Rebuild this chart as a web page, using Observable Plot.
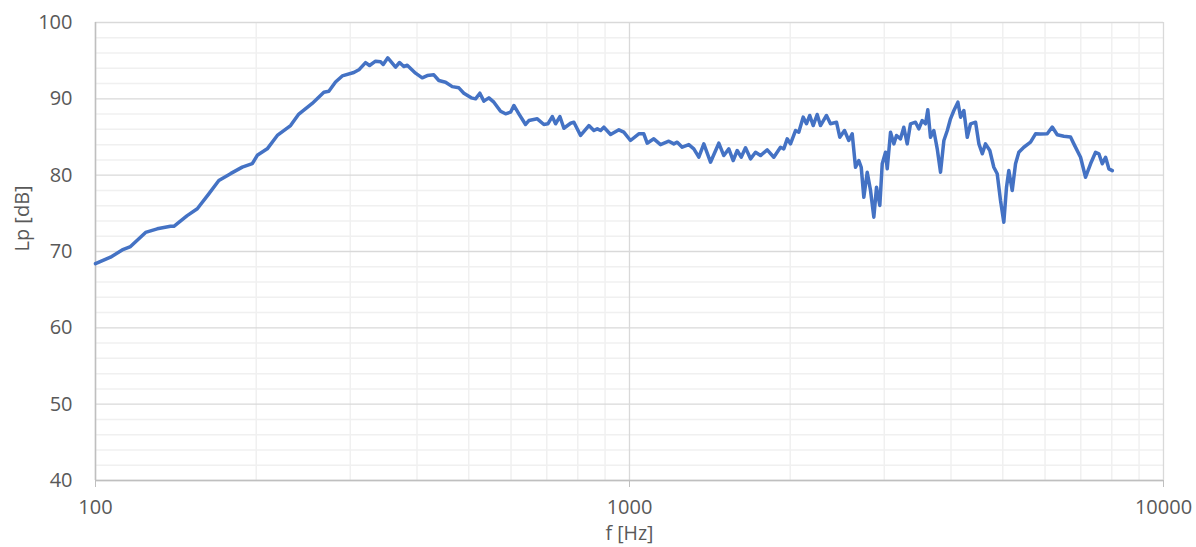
<!DOCTYPE html>
<html>
<head>
<meta charset="utf-8">
<script src="https://cdn.jsdelivr.net/npm/d3@7"></script>
<script src="https://cdn.jsdelivr.net/npm/@observablehq/plot@0.6"></script>
<style>
  html, body { margin: 0; padding: 0; background: #fff; }
  #chart { width: 1196px; height: 547px; overflow: hidden; }
</style>
</head>
<body>
<div id="chart"></div>
<script>
// Frequency (Hz) and sound pressure level Lp (dB)
const freq = [
  100, 106.7, 112.2, 116.3, 124.1, 130.5, 138.2, 140.2, 148.5, 155.1,
  163.0, 170.2, 179.0, 188.3, 196.6, 200.9, 209.7, 219.0, 231.9, 240.3,
  254.6, 267.7, 273.5, 281.5, 289.8, 304.6, 311.3, 320.4, 326.0, 334.5,
  341.8, 345.8, 352.7, 364.7, 371.0, 377.9, 383.5, 397.5, 409.1, 418.1,
  430.1, 439.5, 452.4, 465.7, 479.1, 489.6, 505.4, 514.9, 524.5, 533.7,
  545.3, 557.2, 573.5, 586.0, 598.8, 607.4, 620.6, 638.8, 648.0, 671.9,
  691.3, 703.3, 716.8, 727.1, 740.7, 753.6, 775.7, 786.8, 809.8, 839.3,
  857.6, 870.3, 882.8, 895.4, 921.7, 955.3, 975.7, 1004.3, 1040.9, 1063.6,
  1079.3, 1110.5, 1143.1, 1184.7, 1210.6, 1228.5, 1255.2, 1291.4, 1319.6, 1348.4,
  1377.8, 1418.1, 1469.7, 1501.8, 1534.5, 1563.9, 1591.1, 1618.8, 1649.1, 1685.1,
  1721.8, 1759.3, 1810.9, 1863.1, 1917.6, 1945.1, 1973.9, 2002.2, 2045.9, 2074.8,
  2114.5, 2144.8, 2175.6, 2207.8, 2246.2, 2278.5, 2338.2, 2378.9, 2441.3, 2476.3,
  2527.0, 2574.3, 2612.4, 2650.0, 2688.1, 2716.1, 2746.7, 2787.2, 2827.2, 2867.7,
  2901.3, 2942.9, 2973.5, 3016.2, 3038.4, 3082.0, 3126.2, 3162.3, 3217.4, 3263.5,
  3311.7, 3359.2, 3432.3, 3481.5, 3533.0, 3583.7, 3619.4, 3661.8, 3714.4, 3769.4,
  3823.5, 3879.2, 3936.6, 3991.6, 4050.3, 4120.8, 4169.0, 4227.7, 4290.3, 4352.2,
  4447.3, 4511.4, 4577.9, 4641.6, 4728.7, 4811.0, 4882.0, 4952.0, 5023.0, 5081.9,
  5132.5, 5208.5, 5283.3, 5359.2, 5475.9, 5636.5, 5759.4, 5884.9, 6057.5, 6189.6,
  6324.5, 6507.0, 6697.8, 6793.6, 6993.0, 7145.7, 7301.5, 7460.8, 7568.0, 7679.7,
  7789.8, 7901.7, 8018.2
];
const level = [
  68.4, 69.25, 70.2, 70.65, 72.5, 72.97, 73.3, 73.3, 74.7, 75.6,
  77.55, 79.3, 80.2, 81.05, 81.5, 82.6, 83.45, 85.2, 86.5, 88.0,
  89.4, 90.87, 91.0, 92.2, 93.0, 93.45, 93.8, 94.75, 94.37, 94.93,
  94.85, 94.5, 95.37, 94.15, 94.76, 94.23, 94.4, 93.36, 92.75, 93.05,
  93.15, 92.4, 92.18, 91.6, 91.44, 90.74, 90.13, 90.0, 90.74, 89.7,
  90.13, 89.56, 88.38, 88.04, 88.25, 89.13, 88.04, 86.64, 87.16, 87.38,
  86.64, 86.73, 87.68, 86.73, 87.68, 86.15, 86.8, 86.94, 85.2, 86.5,
  85.85, 86.07, 85.85, 86.28, 85.33, 85.94, 85.63, 84.54, 85.42, 85.42,
  84.19, 84.76, 84.0, 84.45, 84.1, 84.32, 83.66, 84.0, 83.45, 82.35,
  84.1, 81.7, 84.19, 82.57, 83.45, 81.92, 83.23, 82.35, 83.58, 82.14,
  83.0, 82.57, 83.32, 82.35, 83.66, 83.45, 84.76, 84.1, 85.85, 85.63,
  87.6, 86.73, 87.82, 86.5, 87.95, 86.5, 87.82, 86.73, 86.94, 84.97,
  85.85, 84.54, 85.42, 81.04, 81.92, 81.04, 77.11, 80.39, 78.0, 74.5,
  78.42, 76.03, 81.49, 83.0, 80.83, 85.63, 84.1, 85.2, 84.76, 86.28,
  84.1, 86.73, 86.94, 86.07, 87.16, 86.73, 88.56, 84.97, 85.85, 83.45,
  80.39, 84.54, 85.85, 87.38, 88.47, 89.56, 87.6, 88.47, 84.97, 86.73,
  86.94, 84.1, 82.8, 84.1, 83.23, 81.04, 80.18, 76.68, 73.84, 78.42,
  80.6, 78.0, 81.49, 83.0, 83.66, 84.32, 85.42, 85.4, 85.42, 86.3,
  85.3, 85.1, 85.0, 84.1, 82.35, 79.73, 81.49, 83.0, 82.8, 81.49,
  82.35, 80.83, 80.6
];

const xMajor = [100, 1000, 10000];
const xMinor = [200, 300, 400, 500, 600, 700, 800, 900, 2000, 3000, 4000, 5000, 6000, 7000, 8000, 9000];
const yMajor = [40, 50, 60, 70, 80, 90, 100];
const yMinor = d3.range(42, 100, 2).filter(v => v % 10 !== 0);
const xTitle = "f [Hz]";
const yTitle = "Lp [dB]";

const data = freq.map((f, i) => ({f, lp: level[i]}));

const chart = Plot.plot({
  width: 1196,
  height: 547,
  marginLeft: 95,
  marginRight: 33,
  marginTop: 22,
  marginBottom: 67,
  style: {fontFamily: "'Open Sans', sans-serif", fontSize: "20px", color: "#595959", background: "#fff"},
  x: {type: "log", domain: [100, 10000]},
  y: {domain: [40, 100]},
  marks: [
    Plot.ruleY(yMinor, {stroke: "#f0f0f0", strokeWidth: 1.5}),
    Plot.ruleX(xMinor, {stroke: "#f0f0f0", strokeWidth: 1.5}),
    Plot.ruleY(yMajor, {stroke: "#d9d9d9", strokeWidth: 1.3}),
    Plot.ruleX(xMajor, {stroke: "#d9d9d9", strokeWidth: 1.3}),
    Plot.ruleX([100], {stroke: "#bfbfbf", strokeWidth: 1.5}),
    Plot.ruleY([40], {stroke: "#bfbfbf", strokeWidth: 1.5}),
    Plot.axisX({ticks: xMajor, tickFormat: d => String(d), tickSize: 7, tickPadding: 12, stroke: "#bfbfbf", fontSize: 20, label: null}),
    Plot.axisY({ticks: yMajor, tickSize: 0, tickPadding: 23, fontSize: 20, label: null}),
    Plot.line(data, {x: "f", y: "lp", stroke: "#4472C4", strokeWidth: 3.5, strokeLinejoin: "round"}),
    Plot.text([xTitle], {frameAnchor: "bottom", text: d => d, dy: 53.5, fontSize: 19.5, lineAnchor: "middle"}),
    Plot.text([yTitle], {frameAnchor: "left", text: d => d, dx: -73, rotate: -90, fontSize: 20, lineAnchor: "middle"})
  ]
});
document.getElementById("chart").appendChild(chart);
</script>
</body>
</html>
